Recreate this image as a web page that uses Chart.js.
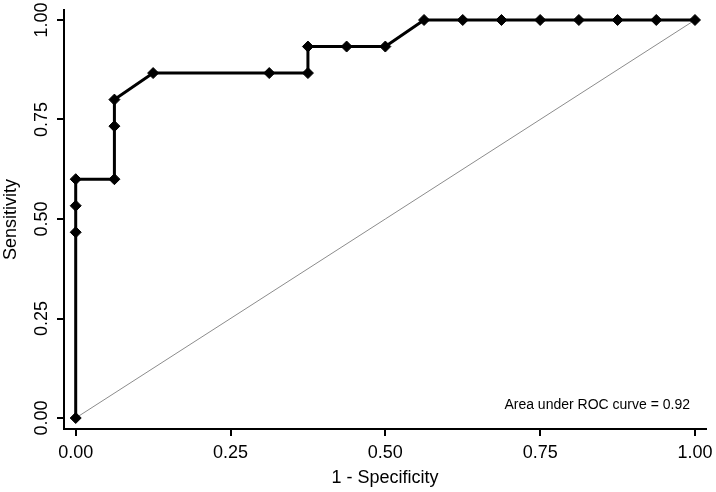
<!DOCTYPE html>
<html>
<head>
<meta charset="utf-8">
<script src="https://cdn.jsdelivr.net/npm/chart.js@4.4.0/dist/chart.umd.min.js"></script>
<style>
	body { margin: 0; background: #fff; }
	canvas { display: block; }
</style>
</head>
<body>
<canvas id="roc" width="716" height="492"></canvas>
<script>
// ROC points: 1 - specificity and sensitivity
const fpr = [0, 0, 0, 0, 0.0625, 0.0625, 0.0625, 0.125, 0.3125, 0.375, 0.375, 0.4375, 0.5, 0.5625, 0.625, 0.6875, 0.75, 0.8125, 0.875, 0.9375, 1];
const sens = [0, 0.4667, 0.5333, 0.6, 0.6, 0.7333, 0.8, 0.8667, 0.8667, 0.8667, 0.9333, 0.9333, 0.9333, 1, 1, 1, 1, 1, 1, 1, 1];
const refX = [0, 1];
const refY = [0, 1];
const xTicks = [0, 0.25, 0.5, 0.75, 1];
const yTicks = [0, 0.25, 0.5, 0.75, 1];
const aucText = 'Area under ROC curve = 0.92';

const font = 'Liberation Sans, Arial, sans-serif';

function toPoints(xs, ys) {
	return xs.map((x, i) => ({ x: x, y: ys[i] }));
}

// rotated y tick labels and the AUC note
const extras = {
	id: 'extras',
	afterDraw(chart) {
		const ctx = chart.ctx;
		const xs = chart.scales.x;
		const ys = chart.scales.y;
		ctx.save();
		ctx.fillStyle = '#000';
		ctx.font = '18px ' + font;
		ctx.textAlign = 'center';
		ctx.textBaseline = 'middle';
		for (const v of yTicks) {
			ctx.save();
			ctx.translate(42, ys.getPixelForValue(v));
			ctx.rotate(-Math.PI / 2);
			ctx.fillText(v.toFixed(2), 0, 0);
			ctx.restore();
		}
		ctx.font = '14px ' + font;
		ctx.textAlign = 'right';
		ctx.fillText(aucText, xs.getPixelForValue(1) - 5, ys.getPixelForValue(0) - 13);
		ctx.restore();
	}
};

const config = {
	type: 'scatter',
	data: {
		datasets: [{
			label: 'ROC',
			data: toPoints(fpr, sens),
			showLine: true,
			borderColor: '#000',
			backgroundColor: '#000',
			borderWidth: 3,
			pointStyle: 'rectRot',
			pointRadius: 5.5,
			pointBorderWidth: 1,
			tension: 0
		}, {
			label: 'Reference',
			data: toPoints(refX, refY),
			showLine: true,
			borderColor: '#8c8c8c',
			borderWidth: 1,
			pointRadius: 0
		}]
	},
	options: {
		responsive: false,
		devicePixelRatio: 1,
		animation: false,
		layout: {
			padding: { top: 10, right: 10, left: 0, bottom: 0 }
		},
		plugins: {
			legend: { display: false },
			tooltip: { enabled: false }
		},
		scales: {
			x: {
				type: 'linear',
				min: -0.0189,
				max: 1.0178,
				afterBuildTicks: s => { s.ticks = xTicks.map(v => ({ value: v })); },
				afterFit: s => {
					s.height = 63;
					s.paddingLeft = 0;
					s.paddingRight = 0;
				},
				ticks: {
					color: '#000',
					font: { size: 18, family: font },
					padding: 6,
					maxRotation: 0,
					autoSkip: false,
					callback: v => v.toFixed(2)
				},
				grid: { drawOnChartArea: false, drawTicks: true, tickLength: 7, color: '#000', lineWidth: 2 },
				border: { color: '#000', width: 2 },
				title: {
					display: true,
					text: '1 - Specificity',
					color: '#000',
					font: { size: 18, family: font },
					padding: { top: 0, bottom: 3 }
				}
			},
			y: {
				type: 'linear',
				min: -0.0276,
				max: 1.0251,
				afterBuildTicks: s => { s.ticks = yTicks.map(v => ({ value: v })); },
				afterFit: s => { s.width = 64; },
				ticks: { display: false },
				grid: { drawOnChartArea: false, drawTicks: true, tickLength: 7, color: '#000', lineWidth: 2 },
				border: { color: '#000', width: 2 },
				title: {
					display: true,
					text: 'Sensitivity',
					color: '#000',
					font: { size: 18, family: font },
					padding: { top: 0, bottom: 0 }
				}
			}
		}
	},
	plugins: [extras]
};

var rocChart = new Chart(document.getElementById('roc'), config);
</script>
</body>
</html>
